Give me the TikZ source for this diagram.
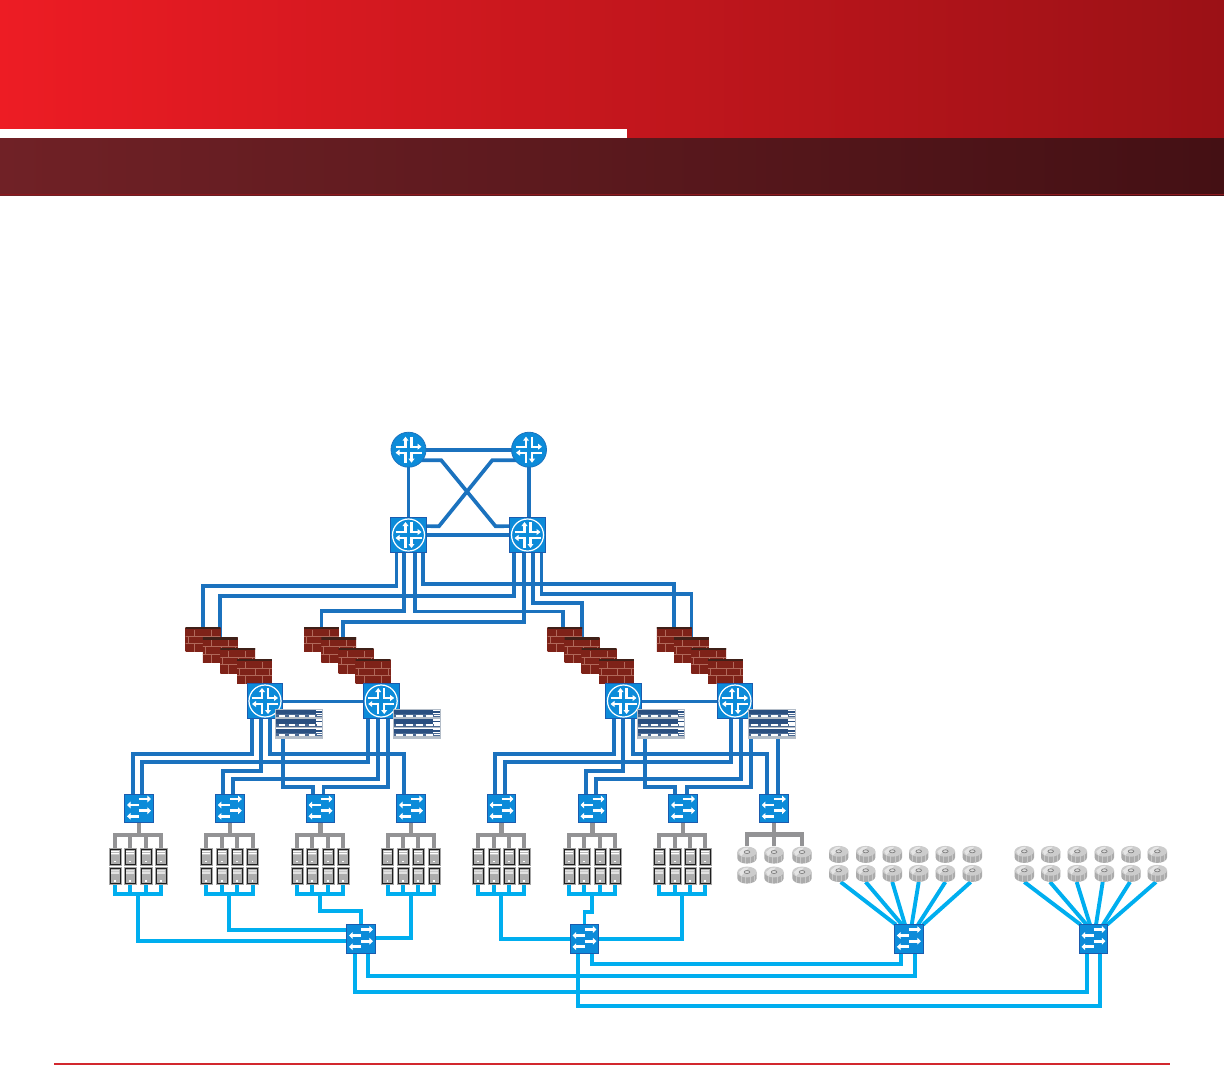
\documentclass[tikz,border=0pt]{standalone}
\usetikzlibrary{calc,arrows.meta,shapes.geometric}
\pgfdeclarelayer{bg}
\pgfsetlayers{bg,main}
\definecolor{icoblue}{HTML}{0C8BD9}
\definecolor{icoedge}{HTML}{1B5BAE}
\definecolor{corelink}{HTML}{1B72BE}
\definecolor{accesslink}{HTML}{00AEEF}
\definecolor{graylink}{HTML}{939395}
\definecolor{brickdark}{HTML}{7E2218}
\definecolor{brickmid}{HTML}{AE382B}
\definecolor{brickcap}{HTML}{3F2018}
\definecolor{mortar}{HTML}{B0685A}
\definecolor{rackblue}{HTML}{2A4F80}
\definecolor{rackedge}{HTML}{B4BDC8}
\definecolor{headredL}{RGB}{237,28,36}
\definecolor{headredM}{RGB}{212,25,31}
\definecolor{headredR}{RGB}{155,17,22}
\definecolor{headdarkL}{RGB}{112,33,38}
\definecolor{headdarkR}{RGB}{68,16,20}
\definecolor{headedge}{RGB}{140,24,30}
\definecolor{footrule}{RGB}{210,40,46}
\newcommand{\routerglyph}[1]{%
  \begin{scope}[shift={(path picture bounding box.center)},white,line width=2.1pt,
     arr/.style={-{Triangle[width=5.8pt,length=4pt]}}]
    \draw[arr] (-#1,-3) -- (-3,-3) -- (-3,-#1);
    \draw[arr] (3,-#1) -- (3,-3) -- (#1,-3);
    \draw[arr] (#1,3) -- (3,3) -- (3,#1);
    \draw[arr] (-3,#1) -- (-3,3) -- (-#1,3);
  \end{scope}}
\newcommand{\switchglyph}{%
  \begin{scope}[shift={(path picture bounding box.center)},white,line width=2.9pt,
     arr/.style={-{Triangle[width=6.6pt,length=3.6pt]}}]
    \draw[arr] (0,-9.5) -- (12,-9.5);
    \draw[arr] (0,-3.5) -- (-12,-3.5);
    \draw[arr] (0,2.2) -- (12,2.2);
    \draw[arr] (0,7.8) -- (-12,7.8);
  \end{scope}}
\newcommand{\rackrow}[1]{%
    \fill[rackblue] (-23.3,#1) rectangle (17,#1+4.6);
    \fill[rackblue] (17,#1+1.7) rectangle (23.3,#1+3.2);
    \fill[rackblue!85!white] (-23.3,#1+4.6) rectangle (23.3,#1+7.4);
    \foreach \q in {-20,-10,0,10}{\fill[white] (\q,#1+5.3) rectangle (\q+6.5,#1+6.9);}
    \fill[white] (18,#1+5.3) rectangle (23.3,#1+6.6);
    \fill[rackedge] (-23.3,#1+7.8) rectangle (23.3,#1+9);}
\tikzset{
  nodebase/.style={shape=rectangle,inner sep=0pt,outer sep=0pt},
  routercircle/.style={shape=circle,inner sep=0pt,outer sep=0pt,minimum size=35pt,
     fill=icoblue,draw=corelink,line width=.8pt,path picture={\routerglyph{13}}},
  routersquare/.style={nodebase,minimum size=35.4pt,fill=icoblue,draw=icoedge,line width=.8pt,
     path picture={%
       \draw[white,line width=1.2pt] (path picture bounding box.center) circle[radius=16pt];
       \routerglyph{13}}},
  switchbox/.style={nodebase,minimum width=28.6pt,minimum height=28.6pt,fill=icoblue,draw=icoedge,line width=.8pt,
     path picture={\switchglyph}},
  firewall/.style={nodebase,minimum width=34.6pt,minimum height=24.6pt,
     left color=brickdark,middle color=brickmid,right color=brickdark,
     path picture={%
       \begin{scope}[shift={(path picture bounding box.center)}]
         \fill[brickcap] (-18,-13) rectangle (18,-10.4);
         \draw[mortar,line width=.42pt]
           (-18,-3.3) -- (18,-3.3) (-18,4) -- (18,4)
           (-9,-10) -- (-9,-3.3) (8,-10) -- (8,-3.3)
           (1,-3.3) -- (1,4) (-15,-3.3) -- (-15,4) (15,-3.3) -- (15,4)
           (-9,4) -- (-9,13) (8,4) -- (8,13);
       \end{scope}}},
  rackunit/.style={nodebase,minimum width=47pt,minimum height=29pt,fill=white,draw=rackedge,line width=.6pt,
     path picture={%
       \begin{scope}[shift={(path picture bounding box.center)}]
         \rackrow{-14}\rackrow{-4.5}\rackrow{5}
       \end{scope}}},
  serverbox/.style={nodebase,minimum width=10pt,minimum height=14.6pt,fill=black!32,draw=black!88,line width=1pt,
     preaction={draw=black!35,line width=3pt},
     path picture={%
       \begin{scope}[shift={(path picture bounding box.center)}]
         \fill[white] (-4,-5.6) rectangle (4,-4.6) (-4,-3.6) rectangle (4,-2.3);
         \fill[white] (-.6,4.4) rectangle (.6,5.6);
       \end{scope}}},
  diskunit/.style={nodebase,minimum width=19.4pt,minimum height=17.4pt,
     path picture={%
       \begin{scope}[shift={(path picture bounding box.center)}]
         \fill[black!33] (-9.7,-3) -- (-9.7,3.2) arc[x radius=9.7,y radius=-5.4,start angle=180,end angle=360] -- (9.7,-3) -- cycle;
         \foreach \q/\e in {-6/7.2,-2/8.2,3/8.1,7/6.8}{\draw[black!22,line width=.7pt] (\q,1) -- (\q,\e);}
         \fill[black!20] (0,-3) ellipse[x radius=9.7,y radius=5.4];
         \fill[white,opacity=.5] (-8,-3) -- (-3,-7) -- (2,-7.5) -- (-3,-2) -- (-6,1) -- cycle;
         \draw[black!50,fill=black!14,line width=.7pt] (0,-3) ellipse[x radius=2.8,y radius=1.5];
       \end{scope}}},
  corewire/.style={draw=corelink,line width=3.7pt},
  peerwire/.style={draw=corelink,line width=3pt},
  accesswire/.style={draw=accesslink,line width=3.9pt},
  graywire/.style={draw=graylink,line width=4.1pt},
}
\begin{document}
\begin{tikzpicture}[x=1pt,y=-1pt]
\useasboundingbox (0,0) rectangle (1224,1065);
% header
\shade[left color=headredL,middle color=headredM,right color=headredR] (0,0) rectangle (1224,138);
\fill[white] (0,129) rectangle (627,138);
\shade[left color=headdarkL,right color=headdarkR] (0,138) rectangle (1224,195);
\fill[headedge] (0,194.4) rectangle (1224,195.2);
% footer rule
\fill[footrule] (54,1063.2) rectangle (1170,1064.8);

% backbone
\node[routercircle] (R1) at (408.5,449.7) {};
\node[routercircle] (R2) at (529,449.7) {};
\node[routersquare] (S1) at (408.5,535) {};
\node[routersquare] (S2) at (527.5,535) {};

% firewalls
\foreach \g/\a/\b/\c/\d in {1/203/220.2/237.7/254.5,2/321.5/338.7/356/373,3/564.8/582/599/616.5,4/674.2/691.5/708.7/725.5}{
  \node[firewall] (F\g-1) at (\a,639.6) {};
  \node[firewall] (F\g-2) at (\b,650) {};
  \node[firewall] (F\g-3) at (\c,660.7) {};
  \node[firewall] (F\g-4) at (\d,671.5) {};
}
% aggregation routers
\node[routersquare] (A1) at (265,701) {};
\node[routersquare] (A2) at (381.2,701) {};
\node[routersquare] (A3) at (623.5,701) {};
\node[routersquare] (A4) at (735,701) {};
% racks
\node[rackunit] (K1) at (298.5,723.6) {};
\node[rackunit] (K2) at (416.3,723.6) {};
\node[rackunit] (K3) at (661,723.6) {};
\node[rackunit] (K4) at (771.3,723.6) {};
% access switches
\foreach \g/\x in {1/139,2/229.8,3/320.5,4/411,5/501.5,6/592.5,7/683,8/773.8}{
  \node[switchbox] (W\g) at (\x,808.5) {};
}
% servers
\foreach \g/\a/\b/\c/\d in {1/115/130/146/161,2/206/222/237/252.7,3/297/312/328/343,4/387.7/403/418/434,5/478/494/509/524,6/569/584/600/615,7/659/675/690/705}{
  \foreach \n/\x in {1/\a,2/\b,3/\c,4/\d}{
    \node[serverbox] (T\g-\n) at (\x,856.7) {};
    \node[serverbox] (B\g-\n) at (\x,876) {};
  }
}
% disks under switch 8
\foreach \n/\x in {1/747,2/774,3/802}{
  \node[diskunit] (D\n) at (\x,855) {};
  \node[diskunit] (E\n) at (\x,875) {};
}
% storage disks
\foreach \n/\x in {1/838.7,2/865.7,3/892.3,4/918.7,5/945.3,6/972.3}{
  \node[diskunit] (P\n) at (\x,854.3) {};
  \node[diskunit] (Q\n) at (\x,873.3) {};
}
\foreach \n/\x in {1/1024.3,2/1050.7,3/1077.3,4/1104.3,5/1131,6/1157.3}{
  \node[diskunit] (U\n) at (\x,854.3) {};
  \node[diskunit] (V\n) at (\x,873.3) {};
}
% storage switches
\node[switchbox] (X1) at (361,939) {};
\node[switchbox] (X2) at (584.5,939) {};
\node[switchbox] (X3) at (908.9,939) {};
\node[switchbox] (X4) at (1093.5,939) {};

\begin{pgfonlayer}{bg}
% backbone links
\draw[corewire] (R1) -- (R2);
\draw[corewire] (R1.center) -- (R1.center |- S1.north);
\draw[corewire] (R2.center) -- (R2.center |- S2.north);
\draw[corewire] (S1) -- (S2);
\draw[corewire] ([yshift=-10.5pt]R1.center) -- ++(32.7,0) -- ++(54.3,66) -- ([yshift=9pt]S2.center);
\draw[corewire] ([yshift=-10.5pt]R2.center) -- ++(-36.7,0) -- ++(-53.3,66) -- ([yshift=9pt]S1.center);
% backbone to firewalls
\draw[corewire] ([xshift=-12pt]S1.south) -- ++(0,33) -| (F1-1.north);
\draw[corewire] ([xshift=-13.5pt]S2.south) -- ++(0,43) -| (F1-2.north);
\draw[corewire] ([xshift=-4.5pt]S1.south) -- ++(0,58.3) -| (F2-1.north);
\draw[corewire] ([xshift=-3.5pt]S2.south) -- ++(0,69.6) -| ([xshift=4pt]F2-2.north);
\draw[corewire] ([xshift=6.5pt]S1.south) -- ++(0,58.8) -| ([xshift=-2pt]F3-1.north);
\draw[corewire] ([xshift=14.2pt]S1.south) -- ++(0,31.6) -| (F4-1.north);
\draw[corewire] ([xshift=5.8pt]S2.south) -- ++(0,50.3) -| (F3-2.north);
\draw[corewire] ([xshift=14pt]S2.south) -- ++(0,41.6) -| (F4-2.north);
% aggregation peers
\draw[peerwire] (A1) -- (A2);
\draw[peerwire] (A3) -- (A4);
% aggregation to access, left
\draw[corewire] ([xshift=-13pt]A1.south) -- ++(0,35.3) -| ([xshift=-6pt]W1.north);
\draw[corewire] ([xshift=-13pt]A2.south) -- ++(0,43.3) -| ([xshift=3pt]W1.north);
\draw[corewire] ([xshift=-4pt]A1.south) -- ++(0,52) -| ([xshift=-7pt]W2.north);
\draw[corewire] ([xshift=-3pt]A2.south) -- ++(0,60.3) -| ([xshift=3pt]W2.north);
\draw[corewire] ([xshift=5pt]A1.south) -- ++(0,35.3) -| ([xshift=-7pt]W4.north);
\draw[corewire] ([xshift=-15.5pt]K1.south) -- ++(0,49) -| ([xshift=-7.5pt]W3.north);
\draw[corewire] ([xshift=7pt]A2.south) -- ++(0,68.3) -| ([xshift=3pt]W3.north);
% aggregation to access, right
\draw[corewire] ([xshift=-9.5pt]A3.south) -- ++(0,35.3) -| ([xshift=-6.5pt]W5.north);
\draw[corewire] ([xshift=-4.3pt]A4.south) -- ++(0,43.3) -| ([xshift=3.5pt]W5.north);
\draw[corewire] ([xshift=-.5pt]A3.south) -- ++(0,52) -| ([xshift=-6.5pt]W6.north);
\draw[corewire] ([xshift=5.7pt]A4.south) -- ++(0,60.3) -| ([xshift=3.5pt]W6.north);
\draw[corewire] ([xshift=9.5pt]A3.south) -- ++(0,35.3) -| ([xshift=-6.8pt]W8.north);
\draw[corewire] ([xshift=6.7pt]K4.south) -- ([xshift=4.2pt]W8.north);
\draw[corewire] ([xshift=-16pt]K3.south) -- ++(0,49) -| ([xshift=-7.7pt]W7.north);
\draw[corewire] ([xshift=16pt]A4.south) -- ++(0,68.3) -| ([xshift=4pt]W7.north);
% switches to servers, servers to buses
\foreach \g in {1,...,7}{
  \draw[graywire] (W\g.south) -- ++(0,12.5);
  \draw[graywire] (T\g-1.north) -- ++(0,-14) -| (T\g-4.north);
  \draw[graywire] (T\g-2.north) -- ++(0,-14);
  \draw[graywire] (T\g-3.north) -- ++(0,-14);
  \draw[accesswire] (B\g-1.south) -- ++(0,11) -| (B\g-4.south);
  \draw[accesswire] (B\g-2.south) -- ++(0,11);
  \draw[accesswire] (B\g-3.south) -- ++(0,11);
  \coordinate (H\g) at ($(B\g-1.south)!.5!(B\g-4.south)+(0,11)$);
}
\draw[graywire] (W8.south) -- ++(0,12.5);
\draw[graywire] (D1.north) -- ++(0,-11.8) -| (D3.north);
\draw[graywire] (D2.north) -- ++(0,-11.8);
% server buses to storage switches
\draw[accesswire] (H1) |- ([yshift=-2pt]X1.west);
\draw[accesswire] (H2) |- ([yshift=9pt]X1.west);
\draw[accesswire] (H3) -- ++(0,17) -| (X1.north);
\draw[accesswire] (H4) |- ([yshift=1pt]X1.east);
\draw[accesswire] (H5) |- (X2.west);
\draw[accesswire] (H6) -- ++(0,18) -| (X2.north);
\draw[accesswire] (H7) |- (X2.east);
% storage switch interconnect
\draw[accesswire] ([xshift=-6pt]X1.south) -- ++(0,39) -| ([xshift=-6.5pt]X4.south);
\draw[accesswire] ([xshift=7pt]X1.south) -- ++(0,22.6) -| ([xshift=6.4pt]X3.south);
\draw[accesswire] ([xshift=-6.5pt]X2.south) -- ++(0,53) -| ([xshift=6.5pt]X4.south);
\draw[accesswire] ([xshift=7.5pt]X2.south) -- ++(0,11) -| ([xshift=-8pt]X3.south);
% disks to storage switches
\foreach \n/\a/\b in {1/2/-12.9,2/0/-6.9,3/0/-3.9,4/0/2.8,5/0/9.1,6/-1.6/14.1}{
  \draw[accesswire] ([xshift=\a pt]Q\n.south) -- ([xshift=\b pt]X3.north);
}
\foreach \n/\a/\b in {1/0/-12.8,2/-.7/-6.8,3/-.6/-3.5,4/-1.6/2.5,5/-1/9.5,6/-1.3/13.5}{
  \draw[accesswire] ([xshift=\a pt]V\n.south) -- ([xshift=\b pt]X4.north);
}
\end{pgfonlayer}
\end{tikzpicture}
\end{document}
